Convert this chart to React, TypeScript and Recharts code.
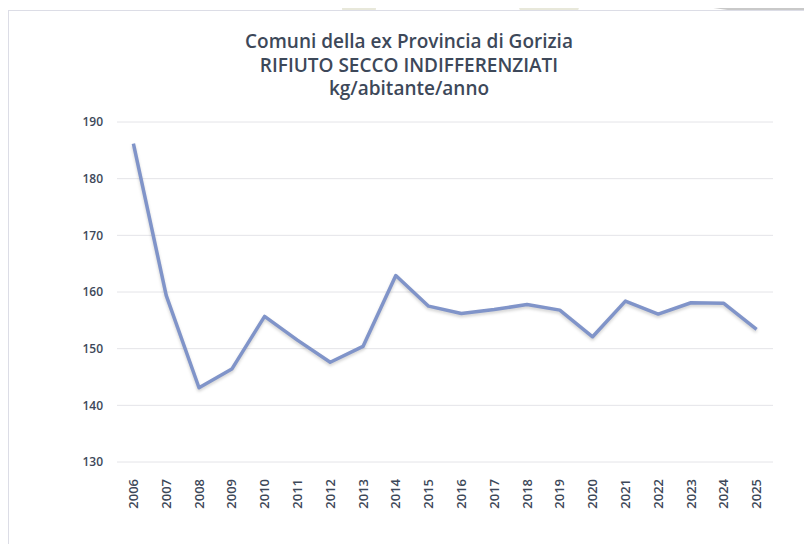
import { CartesianGrid, Line, LineChart, XAxis, YAxis } from 'recharts';

/** Rifiuto secco indifferenziato, kg/abitante/anno — Comuni ex Provincia di Gorizia. */
const YEARS = [
  '2006', '2007', '2008', '2009', '2010', '2011', '2012', '2013', '2014', '2015',
  '2016', '2017', '2018', '2019', '2020', '2021', '2022', '2023', '2024', '2025',
];
const KG_PER_ABITANTE = [
  186.2, 159.4, 143.1, 146.4, 155.7, 151.5, 147.6, 150.4, 162.9, 157.5,
  156.2, 156.9, 157.8, 156.8, 152.1, 158.4, 156.1, 158.1, 158.0, 153.4,
];
const Y_TICKS = [130, 140, 150, 160, 170, 180, 190];
const TITLE_LINES = [
  'Comuni della ex Provincia di Gorizia',
  'RIFIUTO SECCO INDIFFERENZIATI',
  'kg/abitante/anno',
];

const rows = YEARS.map((year, i) => ({ i, year, kg: KG_PER_ABITANTE[i] }));
const centers = YEARS.map((_, i) => i);
const edges = [...YEARS.map((_, i) => i - 0.5), YEARS.length - 0.5];
const domain: [number, number] = [-0.5, YEARS.length - 0.5];

const INK = '#3d4859';
const FONT = '"Open Sans", "DejaVu Sans", sans-serif';

function YearTick(props: any) {
  const { x, y, payload } = props;
  return (
    <text
      x={0}
      y={0}
      transform={`translate(${x + 4.5},${y + 9}) rotate(-90)`}
      textAnchor="end"
      fontSize={13}
      fontWeight={600}
      fontFamily={FONT}
      fill={INK}
    >
      {YEARS[payload.value]}
    </text>
  );
}

export default function App() {
  return (
    <div
      style={{
        position: 'relative',
        width: 812,
        height: 552,
        margin: -8,
        overflow: 'hidden',
        background: '#fff',
        fontFamily: FONT,
      }}
    >
      {/* sfondo sbiadito fuori dal riquadro */}
      <div style={{ position: 'absolute', left: 342, top: -20, width: 34, height: 40, background: '#e8e8da', borderRadius: 12 }} />
      <div style={{ position: 'absolute', left: 518, top: -30, width: 62, height: 60, background: '#e8e8da', borderRadius: '50%' }} />
      <div style={{ position: 'absolute', left: 610, top: -60, width: 240, height: 70, background: '#c9c9c9', transform: 'rotate(8deg)' }} />
      <div style={{ position: 'absolute', left: -10, top: 465, width: 20, height: 40, background: '#e6e6d6' }} />
      <div style={{ position: 'absolute', left: -10, top: 520, width: 20, height: 40, background: '#cacaca' }} />

      <div
        style={{
          position: 'absolute',
          left: 8,
          top: 10,
          width: 830,
          height: 580,
          background: '#fff',
          border: '1px solid #dcdde6',
        }}
      />

      <div
        style={{
          position: 'absolute',
          left: 0,
          top: 30,
          width: 818,
          textAlign: 'center',
          color: INK,
          fontSize: 19,
          fontWeight: 600,
          lineHeight: '23.5px',
        }}
      >
        {TITLE_LINES.map((t) => (
          <div key={t}>{t}</div>
        ))}
      </div>

      <div style={{ position: 'absolute', left: 0, top: 0 }}>
        <LineChart
          width={812}
          height={552}
          data={rows}
          margin={{ top: 122, right: 39, bottom: 40, left: 77 }}
        >
          <CartesianGrid vertical={false} stroke="#e4e4e8" strokeWidth={1} />
          <XAxis
            xAxisId="edge"
            type="number"
            dataKey="i"
            domain={domain}
            ticks={edges}
            interval={0}
            height={0}
            tick={false}
            tickLine={{ stroke: '#d6d6dc' }}
            tickSize={5}
            axisLine={{ stroke: '#d6d6dc' }}
          />
          <XAxis
            xAxisId="main"
            type="number"
            dataKey="i"
            domain={domain}
            ticks={centers}
            interval={0}
            height={50}
            tickLine={false}
            axisLine={false}
            tick={<YearTick />}
          />
          <YAxis
            domain={[130, 190]}
            ticks={Y_TICKS}
            interval={0}
            width={40}
            axisLine={false}
            tickLine={false}
            tickSize={6}
            tickMargin={8}
            tick={{ fontSize: 12, fill: INK, fontFamily: FONT, fontWeight: 600 }}
          />
          <Line
            xAxisId="main"
            type="linear"
            dataKey="kg"
            stroke="#8094c9"
            strokeWidth={3.5}
            strokeLinejoin="round"
            dot={false}
            activeDot={false}
            isAnimationActive={false}
            style={{ filter: 'drop-shadow(0px 2px 1.5px rgba(0,0,0,0.18))' }}
          />
        </LineChart>
      </div>
    </div>
  );
}
